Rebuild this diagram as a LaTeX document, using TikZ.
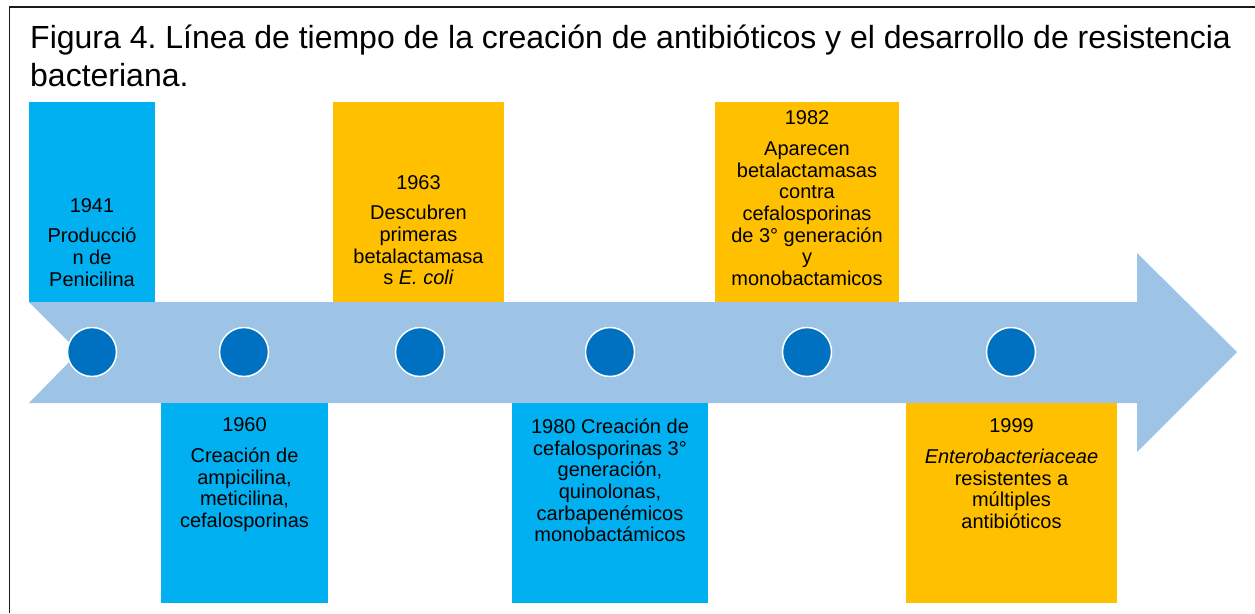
\documentclass[tikz,border=0pt]{standalone}
\usepackage{fontspec}
\setmainfont{Liberation Sans}
\usepackage{tikz}
\usetikzlibrary{positioning}
\definecolor{tlcyan}{HTML}{00B0F0}
\definecolor{tlgold}{HTML}{FFC000}
\definecolor{tlshaft}{HTML}{9DC3E6}
\definecolor{tldot}{HTML}{0070C0}
\definecolor{tlframe}{HTML}{1A1A1A}
\frenchspacing

\begin{document}
\begin{tikzpicture}[x=1pt,y=-1pt,
    evbox/.style={minimum height=200,inner sep=0pt,outer sep=0pt},
    evtext/.style={anchor=north,align=center,inner sep=0pt,font=\fontsize{20}{21.7}\selectfont},
    evdot/.style={circle,fill=tldot,draw=white,line width=1.5pt,minimum size=49,inner sep=0pt}]
  \useasboundingbox (0,0) rectangle (1255,613);
  \draw[draw=tlframe,line width=1.6pt] (9.5,613) -- (9.5,7) -- (1255,7);
  \node[anchor=base west,align=left,inner sep=0pt,font=\fontsize{32}{38.4}\selectfont] (title) at (30,86.7)
    {Figura 4. Línea de tiempo de la creación de antibióticos y el desarrollo de resistencia\\bacteriana.};
  % arrow
  \fill[tlshaft] (29,302) -- (1137,302) -- (1137,253) -- (1237,352) -- (1137,452) -- (1137,403)
    -- (29,403) -- (79,352) -- cycle;
  % boxes above
  \node[evbox,fill=tlcyan,minimum width=126] (b1941) at (92,202) {};
  \node[evbox,fill=tlgold,minimum width=171] (b1963) at (418.5,202) {};
  \node[evbox,fill=tlgold,minimum width=184] (b1982) at (807,202) {};
  % boxes below
  \node[evbox,fill=tlcyan,minimum width=167] (b1960) at (244.5,503) {};
  \node[evbox,fill=tlcyan,minimum width=196] (b1980) at (610,503) {};
  \node[evbox,fill=tlgold,minimum width=211] (b1999) at (1011.5,503) {};
  % texts
  \node[evtext] (t1941) at (92,198) {1941\\[9pt]Producció\\n de\\Penicilina};
  \node[evtext] (t1963) at (418.5,175) {1963\\[9pt]Descubren\\primeras\\betalactamasa\\s \textit{E. coli}};
  \node[evtext] (t1982) at (807,110.5) {1982\\[9pt]Aparecen\\betalactamasas\\contra\\cefalosporinas\\de 3° generación\\y\\monobactamicos};
  \node[evtext] (t1960) at (244.5,417.5) {1960\\[9pt]Creación de\\ampicilina,\\meticilina,\\cefalosporinas};
  \node[evtext] (t1980) at (610,418.5) {1980 Creación de\\cefalosporinas 3°\\generación,\\quinolonas,\\carbapenémicos\\monobactámicos};
  \node[evtext] (t1999) at (1011.5,418.5) {1999\\[9pt]\textit{Enterobacteriaceae}\\resistentes a\\múltiples\\antibióticos};
  % dots
  \foreach \i/\x in {1/92,2/244,3/420,4/610,5/807,6/1011}
    \node[evdot] (dot\i) at (\x,352) {};
\end{tikzpicture}
\end{document}
